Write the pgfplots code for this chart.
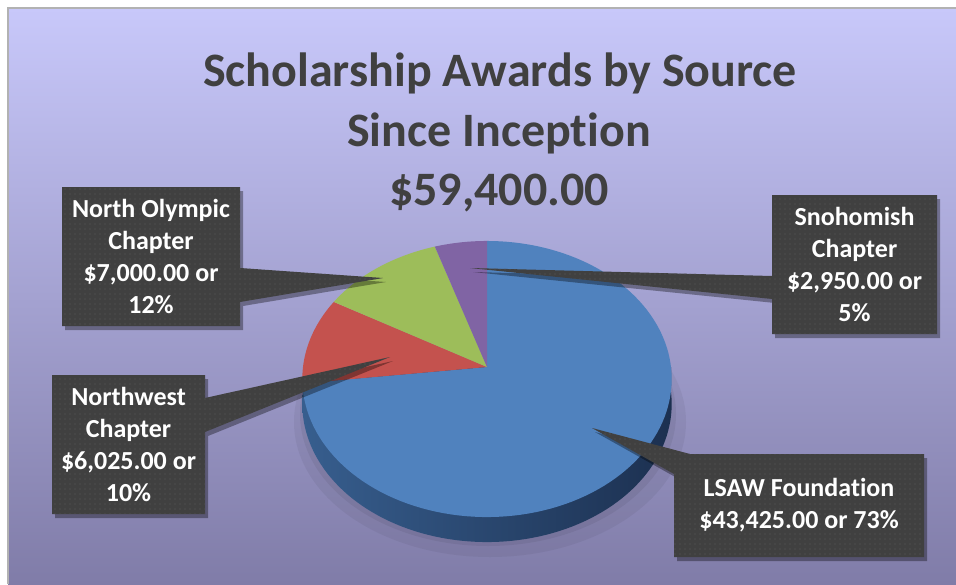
\documentclass[border=0pt]{standalone}
\usepackage{fontspec}
\setmainfont{Carlito}[Ligatures=NoCommon]
\usepackage{pgfplots}
\pgfplotsset{compat=1.18}
\usetikzlibrary{patterns.meta,shadows}
\definecolor{bgtop}{RGB}{200,200,250}
\definecolor{bgbot}{RGB}{128,124,168}
\definecolor{titlegray}{RGB}{64,64,64}
\definecolor{boxgray}{RGB}{64,64,64}
\definecolor{dotgray}{RGB}{92,92,92}
\definecolor{pieblue}{RGB}{80,130,190}
\definecolor{piered}{RGB}{196,82,78}
\definecolor{piegreen}{RGB}{157,189,90}
\definecolor{piepurple}{RGB}{128,100,164}
\definecolor{sideL}{RGB}{55,94,142}
\definecolor{sideR}{RGB}{28,48,80}
% data (US dollars)
\def\vLSAW{43425}
\def\vNW{6025}
\def\vNO{7000}
\def\vSN{2950}
\edef\total{\fpeval{\vLSAW+\vNW+\vNO+\vSN}}
\edef\aA{\fpeval{90-360*\vLSAW/\total}}
\edef\aB{\fpeval{\aA-360*\vNW/\total}}
\edef\aC{\fpeval{\aB-360*\vNO/\total}}
\edef\aD{\fpeval{\aC-360*\vSN/\total}}
% perspective view of the pie disc: centre (487,367)
\def\px#1{487+184*cos(#1)/(1+0.087*sin(#1))}
\def\py#1{367-137*sin(#1)/(1+0.087*sin(#1))}
\tikzset{callout/.style={fill=boxgray,
  postaction={pattern={Dots[distance=5pt,radius=0.6pt]}, pattern color=dotgray},
  drop shadow={shadow xshift=3pt, shadow yshift=-4pt, opacity=0.35, fill=black}},
  lbl/.style={text=white, align=center, font=\fontsize{26}{32}\selectfont\bfseries},
  ttl/.style={anchor=base, text=titlegray, font=\fontsize{48}{58}\selectfont\bfseries}}
\begin{document}
\begin{tikzpicture}
\begin{axis}[width=956pt, height=584pt, scale only axis,
  xmin=0, xmax=956, ymin=0, ymax=584, y dir=reverse,
  hide axis, clip=true]
% background
\fill[white] (axis cs:0,0) rectangle (axis cs:956,584);
\fill[top color=bgtop, bottom color=bgbot] (axis cs:8,8) rectangle (axis cs:956,584);
\draw[color=black!30, line width=1.5pt] (axis cs:8,584) -- (axis cs:8,8) -- (axis cs:956,8);
% pie shadow
\fill[black, opacity=0.05] (axis cs:490,422) ellipse [x radius=196, y radius=135];
\fill[black, opacity=0.06] (axis cs:488,414) ellipse [x radius=188, y radius=132];
% pie side
\addplot[draw=none, left color=sideL, right color=sideR, domain=180:360, samples=90, variable=\t]
  ({\px{t}}, {25+\py{t}}) -- (axis cs:671,367) -- (axis cs:303,367) -- cycle;
% slices
\addplot[draw=none, fill=pieblue, domain=\aA:90, samples=120, variable=\t]
  ({\px{t}}, {\py{t}}) -- (axis cs:487,367) -- cycle;
\addplot[draw=none, fill=piered, domain=\aB:\aA, samples=30, variable=\t]
  ({\px{t}}, {\py{t}}) -- (axis cs:487,367) -- cycle;
\addplot[draw=none, fill=piegreen, domain=\aC:\aB, samples=30, variable=\t]
  ({\px{t}}, {\py{t}}) -- (axis cs:487,367) -- cycle;
\addplot[draw=none, fill=piepurple, domain=\aD:\aC, samples=20, variable=\t]
  ({\px{t}}, {\py{t}}) -- (axis cs:487,367) -- cycle;
% callouts
\path[callout] (axis cs:62,187) -- (axis cs:240,187) -- (axis cs:240,268) -- (axis cs:383,278)
  -- (axis cs:240,302) -- (axis cs:240,326) -- (axis cs:62,326) -- cycle;
\path[callout] (axis cs:772,195) -- (axis cs:937,195) -- (axis cs:937,334) -- (axis cs:772,334)
  -- (axis cs:772,299) -- (axis cs:470,268) -- (axis cs:772,276) -- cycle;
\path[callout] (axis cs:52,375) -- (axis cs:205,375) -- (axis cs:205,398) -- (axis cs:390,357)
  -- (axis cs:205,432) -- (axis cs:205,514) -- (axis cs:52,514) -- cycle;
\path[callout] (axis cs:690,454) -- (axis cs:924,454) -- (axis cs:924,557) -- (axis cs:674,557)
  -- (axis cs:674,474) -- (axis cs:592,428) -- cycle;
\node[lbl] at (axis cs:151,256.5) {North Olympic\\Chapter\\\$7,000.00 or\\12\%};
\node[lbl] at (axis cs:854.5,264.5) {Snohomish\\Chapter\\\$2,950.00 or\\5\%};
\node[lbl] at (axis cs:128.5,444.5) {Northwest\\Chapter\\\$6,025.00 or\\10\%};
\node[lbl] at (axis cs:799,505.5) {LSAW Foundation\\\$43,425.00 or 73\%};
% title
\node[ttl] at (axis cs:500,86) {Scholarship Awards by Source};
\node[ttl] at (axis cs:499,146) {Since Inception};
\node[ttl] at (axis cs:499,205) {\$59,400.00};
\end{axis}
\end{tikzpicture}
\end{document}
